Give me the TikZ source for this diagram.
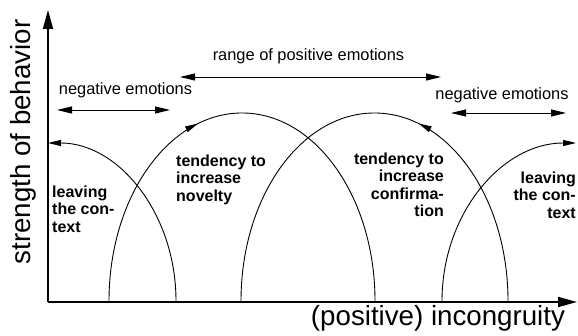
\documentclass[tikz,border=0pt]{standalone}
\usepackage{fontspec}
\setmainfont{Liberation Sans}
\usetikzlibrary{arrows.meta, positioning, decorations.markings}

\begin{document}
\begin{tikzpicture}[x=1pt,y=1pt,
		axis/.style={line width=1.8pt,-{Triangle[length=19pt,width=10pt]}},
		curve/.style={line width=0.9pt},
		tipend/.style={-{Triangle[length=13pt,width=6pt]}},
		tipmid/.style={decoration={markings,mark=at position 0.41 with{\arrow{Triangle[length=13pt,width=6pt]}}},postaction={decorate}},
		span/.style={line width=0.9pt,{Triangle[length=15pt,width=7pt]}-{Triangle[length=15pt,width=7pt]}},
		lbl/.style={inner sep=0pt,anchor=base,font=\fontsize{16.4}{19}\selectfont},
		txt/.style={inner sep=0pt,font=\fontsize{16}{17.5}\selectfont\bfseries},
		big/.style={inner sep=0pt,anchor=base,font=\fontsize{27.7}{32}\selectfont}
		]
		\useasboundingbox (0,0) rectangle (578,336);
		% axes
		\coordinate (o) at (48,34);
		\coordinate (ytop) at (48,326);
		\coordinate (xend) at (577,34);
		\draw [axis] (o) -- (ytop);
		\draw [axis] (o) -- (xend);
		\node (ylab) [big,rotate=90] at (30,194) {strength of behavior};
		\node (xlab) [big] at (438,10) {(positive) incongruity};
		% curves
		\coordinate (a1) at (176,35);
		\coordinate (b1) at (109,35);
		\coordinate (c1) at (508,35);
		\coordinate (d1) at (442,35);
		\draw [curve,tipend] (a1) arc[start angle=0,end angle=90,x radius=128,y radius=158];
		\draw [curve,tipmid] (b1) arc[start angle=180,end angle=0,x radius=133,y radius=188];
		\draw [curve,tipmid] (c1) arc[start angle=0,end angle=180,x radius=133.5,y radius=188];
		\draw [curve,tipend] (d1) arc[start angle=180,end angle=90,x radius=134,y radius=158];
		% ranges
		\coordinate (nl1) at (57,226);
		\coordinate (nl2) at (170,226);
		\coordinate (p1) at (180,259);
		\coordinate (p2) at (441,259);
		\coordinate (nr1) at (451,223);
		\coordinate (nr2) at (566,223);
		\draw [span] (nl1) -- (nl2);
		\draw [span] (p1) -- (p2);
		\draw [span] (nr1) -- (nr2);
		\node (negl) [lbl] at (125.5,241) {negative emotions};
		\node (pos) [lbl] at (308.5,275) {range of positive emotions};
		\node (negr) [lbl] at (502,236) {negative emotions};
		% texts
		\node (leavel) [txt,anchor=north west,align=left] at (52,150.5) {leaving\\the con-\\text};
		\node (nov) [txt,anchor=north west,align=left] at (176,181.5) {tendency to\\increase\\novelty};
		\node (conf) [txt,anchor=north east,align=right] at (444,183.5) {tendency to\\increase\\confirma-\\tion};
		\node (leaver) [txt,anchor=north east,align=right] at (576,164.5) {leaving\\the con-\\text};
	
	\end{tikzpicture}
\end{document}
